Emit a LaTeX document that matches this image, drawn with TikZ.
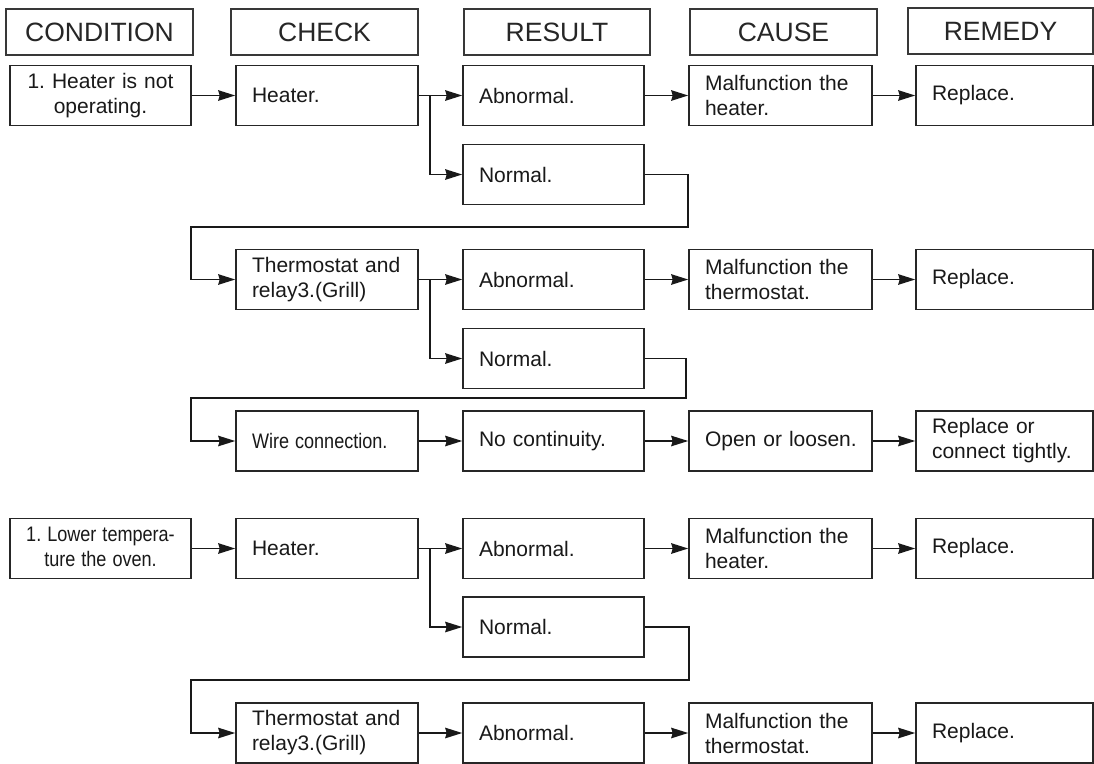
\documentclass[tikz,border=0pt]{standalone}
\usepackage{fontspec}
\setmainfont{Liberation Sans}
\usetikzlibrary{arrows.meta}
\begin{document}
\frenchspacing
\hbadness=10000 \hfuzz=50pt
\begin{tikzpicture}[x=1pt,y=-1pt,
  hdr/.style={draw=black!78, line width=1.8pt, minimum height=46pt, inner sep=0pt,
    font=\fontsize{26.5}{30}\selectfont, text=black!85},
  box/.style={draw=black!85, line width=1.6pt, minimum height=60pt, inner xsep=16pt,
    inner ysep=0pt, align=left, font=\fontsize{21}{25}\selectfont, text=black!90},
  cbox/.style={box, inner xsep=4pt, align=center},
  conn/.style={line width=1.6pt, draw=black!90,
    -{Stealth[length=17pt,width=10.5pt,inset=1.5pt]}},
  wA/.style={text width=173pt},
  wB/.style={text width=150pt},
  wC/.style={text width=149pt},
  wD/.style={text width=151pt},
  wE/.style={text width=145pt}
]
\useasboundingbox (0,0) rectangle (1094,763);
\fill[white] (0,0) rectangle (1094,763);

% headers
\node[hdr, minimum width=187pt] (hA) at (99.5,32) {CONDITION};
\node[hdr, minimum width=187pt] (hB) at (324.5,32) {CHECK};
\node[hdr, minimum width=186pt] (hC) at (557,32) {RESULT};
\node[hdr, minimum width=187pt] (hD) at (783.5,32) {CAUSE};
\node[hdr, minimum width=185pt] (hE) at (1000.5,31) {REMEDY};

% row 1
\node[cbox, wA] (c1) at (100.5,95.5) {1. Heater is not\\operating.};
\node[box, wB] (k1) at (327,95.5) {Heater.};
\node[box, wC] (a1) at (553.5,95.5) {Abnormal.};
\node[box, wD] (d1) at (780.5,95.5) {Malfunction the\\heater.};
\node[box, wE] (e1) at (1004.5,95.5) {Replace.};
\node[box, wC] (n1) at (553.5,174.5) {Normal.};

% row 2
\node[box, wB] (k2) at (327,279.5) {Thermostat and\\relay3.(Grill)};
\node[box, wC] (a2) at (553.5,279.5) {Abnormal.};
\node[box, wD] (d2) at (780.5,279.5) {Malfunction the\\thermostat.};
\node[box, wE] (e2) at (1004.5,279.5) {Replace.};
\node[box, wC] (n2) at (553.5,358.5) {Normal.};

% row 3
\node[box, wB] (k3) at (327,441) {\scalebox{0.86}[1]{Wire connection.}};
\node[box, wC] (a3) at (553.5,441) {No continuity.};
\node[box, wD] (d3) at (780.5,441) {\mbox{Open or loosen.}};
\node[box, wE] (e3) at (1004.5,441) {Replace or\\connect tightly.};

% row 4
\node[cbox, wA] (c4) at (100.5,548.5) {\scalebox{0.86}[1]{\begin{tabular}{@{}c@{}}1. Lower tempera-\\ture the oven.\end{tabular}}};
\node[box, wB] (k4) at (327,548.5) {Heater.};
\node[box, wC] (a4) at (553.5,548.5) {Abnormal.};
\node[box, wD] (d4) at (780.5,548.5) {Malfunction the\\heater.};
\node[box, wE] (e4) at (1004.5,548.5) {Replace.};
\node[box, wC] (n4) at (553.5,627) {Normal.};

% row 5
\node[box, wB] (k5) at (327,733) {Thermostat and\\relay3.(Grill)};
\node[box, wC] (a5) at (553.5,733) {Abnormal.};
\node[box, wD] (d5) at (780.5,733) {Malfunction the\\thermostat.};
\node[box, wE] (e5) at (1004.5,733) {Replace.};

% junction / bend coordinates
\coordinate (j1) at (430,95.5);
\coordinate (j2) at (430,279.5);
\coordinate (j4) at (430,548.5);
\coordinate (f1a) at (688,227);
\coordinate (f1b) at (191,227);
\coordinate (f2a) at (686,398);
\coordinate (f2b) at (191,398);
\coordinate (f4a) at (689,680);
\coordinate (f4b) at (191,680);

% row 1 connectors
\draw[conn] (c1) -- (k1);
\draw[conn] (k1) -- (a1);
\draw[conn] (j1) |- (n1.west);
\draw[conn] (a1) -- (d1);
\draw[conn] (d1) -- (e1);
\draw[conn] (n1.east) -| (f1a) -- (f1b) |- (k2.west);

% row 2 connectors
\draw[conn] (k2) -- (a2);
\draw[conn] (j2) |- (n2.west);
\draw[conn] (a2) -- (d2);
\draw[conn] (d2) -- (e2);
\draw[conn] (n2.east) -| (f2a) -- (f2b) |- (k3.west);

% row 3 connectors
\draw[conn] (k3) -- (a3);
\draw[conn] (a3) -- (d3);
\draw[conn] (d3) -- (e3);

% row 4 connectors
\draw[conn] (c4) -- (k4);
\draw[conn] (k4) -- (a4);
\draw[conn] (j4) |- (n4.west);
\draw[conn] (a4) -- (d4);
\draw[conn] (d4) -- (e4);
\draw[conn] (n4.east) -| (f4a) -- (f4b) |- (k5.west);

% row 5 connectors
\draw[conn] (k5) -- (a5);
\draw[conn] (a5) -- (d5);
\draw[conn] (d5) -- (e5);
\end{tikzpicture}
\end{document}
